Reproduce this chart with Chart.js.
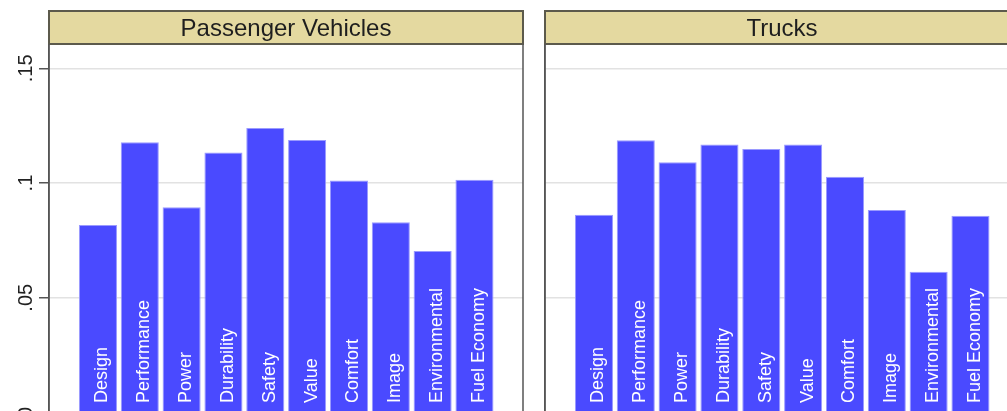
<!DOCTYPE html>
<html>
<head>
<meta charset="utf-8">
<script src="https://cdn.jsdelivr.net/npm/chart.js@4"></script>
<style>
  html, body { margin: 0; padding: 0; background: #fff; overflow: hidden; width: 1007px; height: 411px; }
  canvas { position: absolute; top: 0; }
  #left { left: 0; }
  #right { left: 535px; }
</style>
</head>
<body>
<canvas id="left" width="540" height="440"></canvas>
<canvas id="right" width="500" height="440"></canvas>
<script>
// datos
const categorias = ["Design", "Performance", "Power", "Durability", "Safety", "Value", "Comfort", "Image", "Environmental", "Fuel Economy"];
const valoresPasajeros = [0.0817, 0.1178, 0.0895, 0.1133, 0.1240, 0.1188, 0.1011, 0.0829, 0.0704, 0.1014];
const valoresCamiones = [0.0862, 0.1187, 0.1091, 0.1168, 0.1148, 0.1168, 0.1027, 0.0883, 0.0613, 0.0857];
const ticksY = [0, 0.05, 0.1, 0.15];
const etiquetasY = ["0", ".05", ".1", ".15"];

const FUENTE = "'Liberation Sans', Arial, sans-serif";
const AZUL = "#4a4aff";
const GRIS = "#555";

// encabezado tipo Stata, marco y etiquetas dentro de las barras
const panelPlugin = {
    id: "panel",
    afterDatasetsDraw(chart) {
        const ctx = chart.ctx;
        const meta = chart.getDatasetMeta(0);
        ctx.save();
        ctx.fillStyle = "#fff";
        ctx.font = "18px " + FUENTE;
        ctx.textAlign = "left";
        ctx.textBaseline = "alphabetic";
        meta.data.forEach((bar, i) => {
            ctx.save();
            ctx.translate(bar.x + 9.5, 403);
            ctx.rotate(-Math.PI / 2);
            ctx.fillText(categorias[i], 0, 0);
            ctx.restore();
        });
        ctx.restore();
    },
    afterDraw(chart, args, opts) {
        const ctx = chart.ctx;
        const area = chart.chartArea;
        ctx.save();
        // encabezado
        ctx.fillStyle = "#e4d9a0";
        ctx.fillRect(area.left, 11, area.right - area.left, 33);
        ctx.strokeStyle = "#5c5a4c";
        ctx.lineWidth = 2;
        ctx.strokeRect(area.left, 11, area.right - area.left, 33);
        ctx.fillStyle = "#1e1e1e";
        ctx.font = "24px " + FUENTE;
        ctx.textAlign = "center";
        ctx.textBaseline = "alphabetic";
        ctx.fillText(opts.titulo, (area.left + area.right) / 2, 36);
        // marco lateral
        ctx.strokeStyle = GRIS;
        ctx.lineWidth = 1.5;
        ctx.beginPath();
        ctx.moveTo(area.left, 44);
        ctx.lineTo(area.left, area.bottom);
        ctx.moveTo(area.right, 44);
        ctx.lineTo(area.right, area.bottom);
        ctx.stroke();
        // etiquetas del eje y (rotadas)
        if (opts.etiquetas) {
            const y = chart.scales.y;
            ctx.fillStyle = "#222";
            ctx.font = "20px " + FUENTE;
            ctx.textAlign = "center";
            ticksY.forEach((v, i) => {
                ctx.save();
                ctx.translate(32, y.getPixelForValue(v));
                ctx.rotate(-Math.PI / 2);
                ctx.fillText(etiquetasY[i], 0, 0);
                ctx.restore();
            });
        }
        ctx.restore();
    }
};

function crearPanel(id, titulo, valores, anchoEje, conTicks, padDerecha) {
    const ctx = document.getElementById(id).getContext("2d");
    return new Chart(ctx, {
        type: "bar",
        data: {
            datasets: [{
                data: valores.map((v, i) => ({ x: i, y: v })),
                backgroundColor: AZUL,
                borderColor: "#9a9aff",
                borderWidth: 1,
                barPercentage: 0.91,
                categoryPercentage: 1
            }]
        },
        options: {
            responsive: false,
            animation: false,
            layout: { padding: { top: 44, bottom: 27.5, right: padDerecha, left: 0 } },
            plugins: {
                legend: { display: false },
                tooltip: { enabled: false },
                panel: { titulo: titulo, etiquetas: conTicks }
            },
            scales: {
                x: {
                    type: "linear",
                    offset: false,
                    min: -1.17,
                    max: 10.16,
                    display: false
                },
                y: {
                    min: 0,
                    max: 0.1606,
                    afterBuildTicks: (scale) => {
                        scale.ticks = ticksY.map(v => ({ value: v }));
                    },
                    afterFit: (scale) => { scale.width = anchoEje; },
                    ticks: { display: false },
                    grid: {
                        color: "#e2e2e2",
                        lineWidth: 1.5,
                        drawTicks: conTicks,
                        tickLength: 10,
                        tickColor: GRIS,
                        tickWidth: 1.5
                    },
                    border: { display: true, color: GRIS, width: 1.5 }
                }
            }
        },
        plugins: [panelPlugin]
    });
}

crearPanel("left", "Passenger Vehicles", valoresPasajeros, 49, true, 17);
crearPanel("right", "Trucks", valoresCamiones, 10, false, 16);
</script>
</body>
</html>
